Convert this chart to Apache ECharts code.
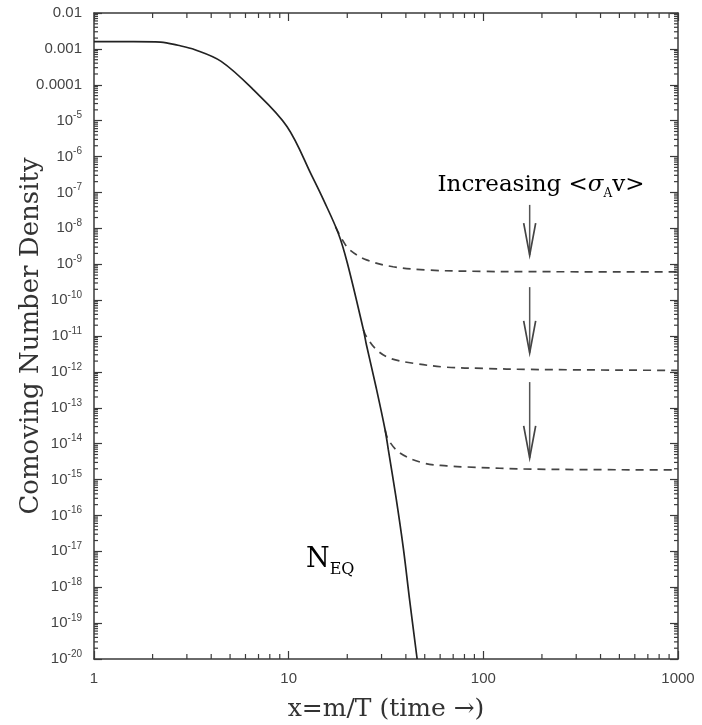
<!DOCTYPE html>
<html lang="en" style="height: 100%">
<head>
    <meta charset="UTF-8">
    <title>Comoving Number Density</title>
    <script src="https://cdn.jsdelivr.net/npm/echarts@6/dist/echarts.min.js"></script>
</head>
<body style="height: 100%; margin: 0; background: #fff">
<div id="main" style="width: 702px; height: 725px"></div>
<script>
    // equilibrium curve N_EQ (x = m/T, comoving number density)
    var eqX = [1, 1.6, 2.2, 2.7, 3.3, 4.5, 6.6, 9.8, 13.2, 15.1, 18.0, 20.0, 24.2, 25.1, 28.2, 31.3, 32.5, 35.5, 38.8, 41.7, 45.7];
    var eqY = [1.6e-3, 1.6e-3, 1.55e-3, 1.26e-3, 9.5e-4, 4.5e-4, 7.2e-5, 6.9e-6, 2.8e-7, 6.2e-8, 7.2e-9, 1.1e-9, 1.5e-11, 5.6e-12, 3.5e-13, 2.4e-14, 6.8e-15, 3.5e-16, 1.25e-17, 5e-19, 1e-20];

    // freeze-out curves, <sigma_A v> increasing from top to bottom
    var fo1X = [17.4, 19.0, 20.6, 25.1, 34.4, 51.2, 100, 173, 1000];
    var fo1Y = [1.1e-8, 4.5e-9, 2.5e-9, 1.32e-9, 8.5e-10, 6.9e-10, 6.3e-10, 6.2e-10, 6.1e-10];
    var fo2X = [24.2, 25.1, 28.2, 33.1, 43.7, 64.9, 100, 173, 1000];
    var fo2Y = [1.5e-11, 9.5e-12, 4.2e-12, 2.4e-12, 1.74e-12, 1.35e-12, 1.25e-12, 1.17e-12, 1.1e-12];
    var fo3X = [31.3, 32.5, 37.3, 49, 64.9, 82, 180, 1000];
    var fo3Y = [2.4e-14, 1.29e-14, 5.5e-15, 2.9e-15, 2.4e-15, 2.24e-15, 1.95e-15, 1.86e-15];

    // the three arrows
    var arrowX = 173;
    var arrowFrom = [4.5e-8, 2.3e-10, 5.2e-13];
    var arrowTo = [1.8e-9, 3.4e-12, 4e-15];

    // log axes: decades and minor tick multipliers
    var xDecades = [1, 10, 100];
    var yDecades = [];
    for (var e = -20; e < -2; e++) yDecades.push(Math.pow(10, e));
    var minorMult = [2, 3, 4, 5, 6, 7, 8, 9];

    function toLog(xs, ys) {
        return xs.map(function (x, i) { return [Math.log10(x), Math.log10(ys[i])]; });
    }

    var xMinor = [], yMinor = [];
    xDecades.forEach(function (d) { minorMult.forEach(function (m) { xMinor.push([Math.log10(d * m), -11]); }); });
    yDecades.forEach(function (d) { minorMult.forEach(function (m) { yMinor.push([1.5, Math.log10(d * m)]); }); });

    var arrows = arrowFrom.map(function (v, i) {
        return [Math.log10(arrowX), Math.log10(v), Math.log10(arrowTo[i])];
    });

    var frameColor = '#3a3a3a';
    var labelColor = '#444';

    function tickLine(x1, y1, x2, y2) {
        return {
            type: 'line',
            shape: { x1: x1, y1: y1, x2: x2, y2: y2 },
            style: { stroke: frameColor, lineWidth: 1.2 }
        };
    }

    function minorX(params, api) {
        var cs = params.coordSys;
        var px = api.coord([api.value(0), api.value(1)])[0];
        var bot = cs.y + cs.height, top = cs.y;
        return {
            type: 'group', children: [
                tickLine(px, bot, px, bot - 5),
                tickLine(px, top, px, top + 5)
            ]
        };
    }

    function minorY(params, api) {
        var cs = params.coordSys;
        var py = api.coord([api.value(0), api.value(1)])[1];
        var left = cs.x, right = cs.x + cs.width;
        return {
            type: 'group', children: [
                tickLine(left, py, left + 4, py),
                tickLine(right, py, right - 4, py)
            ]
        };
    }

    function drawArrow(params, api) {
        var p0 = api.coord([api.value(0), api.value(1)]);
        var p1 = api.coord([api.value(0), api.value(2)]);
        return {
            type: 'group', children: [
                { type: 'line', shape: { x1: p0[0], y1: p0[1], x2: p1[0], y2: p1[1] },
                  style: { stroke: '#555', lineWidth: 1.5 } },
                { type: 'polyline', shape: { points: [[p1[0] - 6, p1[1] - 32], [p1[0], p1[1]], [p1[0] + 6, p1[1] - 32]] },
                  style: { stroke: '#444', lineWidth: 1.7, fill: null } }
            ]
        };
    }

    var baseAxis = {
        type: 'value',
        interval: 1,
        nameMoveOverlap: false,
        axisLine: { show: true, onZero: false, lineStyle: { color: frameColor, width: 1.5 } },
        axisTick: { show: true, inside: true, length: 8, lineStyle: { color: frameColor, width: 1.2 } },
        splitLine: { show: false }
    };

    var serif = '"DejaVu Serif", serif';
    var sans = '"Liberation Sans", sans-serif';

    var option = {
        backgroundColor: '#fff',
        animation: false,
        grid: { left: 94, right: 24, top: 13, bottom: 66, containLabel: false, outerBoundsMode: 'none' },
        xAxis: [
            Object.assign({}, baseAxis, {
                min: 0, max: 3, position: 'bottom',
                name: 'x=m/T (time \u2192)',
                nameLocation: 'middle',
                nameGap: 38,
                nameTextStyle: { fontFamily: serif, fontSize: 25, color: '#333' },
                axisLabel: {
                    margin: 12, color: labelColor, fontFamily: sans, fontSize: 15,
                    formatter: function (v) { return String(Math.round(Math.pow(10, v))); }
                }
            }),
            Object.assign({}, baseAxis, { min: 0, max: 3, position: 'top', axisLabel: { show: false } })
        ],
        yAxis: [
            Object.assign({}, baseAxis, {
                min: -20, max: -2, position: 'left',
                name: 'Comoving Number Density',
                nameLocation: 'middle',
                nameGap: 50,
                nameTextStyle: { fontFamily: serif, fontSize: 26, color: '#333' },
                axisLabel: {
                    margin: 12, color: labelColor, fontFamily: sans, fontSize: 15,
                    formatter: function (v) {
                        if (v >= -4) return Math.pow(10, v).toFixed(-v);
                        return '{b|10}{sup|' + v + '}';
                    },
                    rich: {
                        b: { fontSize: 15, lineHeight: 20, color: labelColor, fontFamily: sans },
                        sup: { fontSize: 10, lineHeight: 11, verticalAlign: 'top', color: labelColor, fontFamily: sans }
                    }
                }
            }),
            Object.assign({}, baseAxis, { min: -20, max: -2, position: 'right', axisLabel: { show: false } })
        ],
        graphic: [
            {
                type: 'text', x: 541, y: 185, silent: true,
                style: {
                    text: '{t|Increasing <}{s|\u03c3}{sub|A}{t|v>}',
                    align: 'center', verticalAlign: 'middle',
                    rich: {
                        t: { fontFamily: serif, fontSize: 23, lineHeight: 30, color: '#333' },
                        s: { fontFamily: serif, fontSize: 23, lineHeight: 30, fontStyle: 'italic', color: '#333' },
                        sub: { fontFamily: serif, fontSize: 12, lineHeight: 12, verticalAlign: 'bottom', color: '#333' }
                    }
                }
            },
            {
                type: 'text', x: 306, y: 560, silent: true,
                style: {
                    text: '{n|N}{sub|EQ}',
                    align: 'left', verticalAlign: 'middle',
                    rich: {
                        n: { fontFamily: serif, fontSize: 27, lineHeight: 36, color: '#333' },
                        sub: { fontFamily: serif, fontSize: 16, lineHeight: 16, verticalAlign: 'bottom', color: '#333' }
                    }
                }
            }
        ],
        series: [
            { type: 'custom', silent: true, clip: false, renderItem: minorX, data: xMinor, z: 5 },
            { type: 'custom', silent: true, clip: false, renderItem: minorY, data: yMinor, z: 5 },
            {
                name: 'N_EQ', type: 'line', data: toLog(eqX, eqY), smooth: 0.35,
                showSymbol: false, lineStyle: { color: '#222', width: 1.7 }, z: 3
            },
            {
                type: 'line', data: toLog(fo1X, fo1Y), smooth: 0.35, showSymbol: false,
                lineStyle: { color: '#444', width: 1.7, type: [8, 6] }, z: 2
            },
            {
                type: 'line', data: toLog(fo2X, fo2Y), smooth: 0.35, showSymbol: false,
                lineStyle: { color: '#444', width: 1.7, type: [8, 6] }, z: 2
            },
            {
                type: 'line', data: toLog(fo3X, fo3Y), smooth: 0.35, showSymbol: false,
                lineStyle: { color: '#444', width: 1.7, type: [8, 6] }, z: 2
            },
            {
                type: 'custom', silent: true, renderItem: drawArrow, data: arrows,
                encode: { x: 0, y: [1, 2] }, z: 4
            }
        ]
    };

    var myChart = echarts.init(document.getElementById('main'));
    myChart.setOption(option);
</script>
</body>
</html>
